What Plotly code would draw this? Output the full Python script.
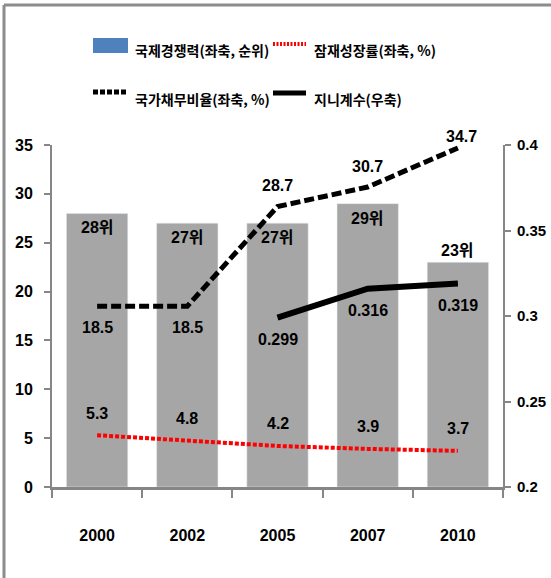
import plotly.graph_objects as go

# ---- data ----
years = ["2000", "2002", "2005", "2007", "2010"]
competitiveness_rank = [28, 27, 27, 29, 23]          # 국제경쟁력 (left axis, rank)
potential_growth = [5.3, 4.8, 4.2, 3.9, 3.7]          # 잠재성장률 (left axis, %)
debt_ratio = [18.5, 18.5, 28.7, 30.7, 34.7]           # 국가채무비율 (left axis, %)
gini = [None, None, 0.299, 0.316, 0.319]              # 지니계수 (right axis)

rank_label_inside = [True, True, True, True, False]
debt_label_above = [False, False, True, True, True]

# ---- layout geometry (pixels) ----
W, H = 551, 578
L, R, T, B = 52, 503, 145, 487


def px_x(p):
    return (p - L) / (R - L)


def px_y(p):
    return (B - p) / (B - T)


NUM_FONT = "Liberation Sans, Arial, Noto Sans CJK KR, sans-serif"
KR_FONT = "Noto Sans CJK KR, sans-serif"
AXIS_GRAY = "#868686"

fig = go.Figure()

fig.add_trace(go.Bar(
    x=years, y=competitiveness_rank, marker_color="#a6a6a6",
    width=0.68, showlegend=False, hoverinfo="skip",
))
fig.add_trace(go.Scatter(
    x=years, y=potential_growth, mode="lines",
    line=dict(color="#ff0000", width=4, dash="4px,2px"),
    showlegend=False, hoverinfo="skip",
))
fig.add_trace(go.Scatter(
    x=years, y=debt_ratio, mode="lines",
    line=dict(color="#000000", width=5, dash="10px,4px"),
    showlegend=False, hoverinfo="skip",
))
fig.add_trace(go.Scatter(
    x=years, y=gini, mode="lines", yaxis="y2",
    line=dict(color="#000000", width=6),
    showlegend=False, hoverinfo="skip", connectgaps=False,
))

label_font = dict(family=NUM_FONT, size=16, color="#000000", weight="bold")
annotations = []

# rank labels on the bars (x given as category index)
for i, (v, inside) in enumerate(zip(competitiveness_rank, rank_label_inside)):
    annotations.append(dict(
        x=i, y=v, xref="x", yref="y", text=f"{v}위", showarrow=False,
        yanchor="top" if inside else "bottom", yshift=-4 if inside else 1,
        font=label_font,
    ))

# potential growth labels
for i, v in enumerate(potential_growth):
    annotations.append(dict(
        x=i, y=v, xref="x", yref="y", text=f"{v:.1f}", showarrow=False,
        yshift=22, font=label_font,
    ))

# debt ratio labels
for i, (v, above) in enumerate(zip(debt_ratio, debt_label_above)):
    shift = 21 if above else -21
    xs = 0
    if i == len(debt_ratio) - 1:
        shift, xs = 11, 4
    annotations.append(dict(
        x=i, y=v, xref="x", yref="y", text=f"{v:.1f}", showarrow=False,
        yshift=shift, xshift=xs, font=label_font,
    ))

# gini labels
for i, v in enumerate(gini):
    if v is None:
        continue
    annotations.append(dict(
        x=i, y=v, xref="x", yref="y2", text=f"{v:.3f}", showarrow=False,
        yshift=-22, font=label_font,
    ))

# ---- legend (drawn in paper space) ----
legend_font = dict(family=KR_FONT, size=14, color="#000000", weight="bold")
legend_items = [
    (133, 50, "국제경쟁력(좌축, 순위)"),
    (312, 50, "잠재성장률(좌축, %)"),
    (133, 99, "국가채무비율(좌축, %)"),
    (312, 99, "지니계수(우축)"),
]
for x, y, txt in legend_items:
    annotations.append(dict(
        x=px_x(x), y=px_y(y), xref="paper", yref="paper", text=txt,
        showarrow=False, xanchor="left", yanchor="middle", font=legend_font,
    ))

FRAME = dict(color="#8c8c8c", width=3)
shapes = [
    # outer frame (left and top edges fall inside the page)
    dict(type="line", xref="paper", yref="paper",
         x0=px_x(4), x1=px_x(W + 40), y0=px_y(5), y1=px_y(5), line=FRAME),
    dict(type="line", xref="paper", yref="paper",
         x0=px_x(4), x1=px_x(4), y0=px_y(5), y1=px_y(H + 40), line=FRAME),
    # legend swatches
    dict(type="rect", xref="paper", yref="paper",
         x0=px_x(93), x1=px_x(128), y0=px_y(38), y1=px_y(53),
         line=dict(width=0), fillcolor="#4f81bd"),
    dict(type="line", xref="paper", yref="paper",
         x0=px_x(273), x1=px_x(306), y0=px_y(44), y1=px_y(44),
         line=dict(color="#ff0000", width=4, dash="2px,1.5px")),
    dict(type="line", xref="paper", yref="paper",
         x0=px_x(93), x1=px_x(128), y0=px_y(92), y1=px_y(92),
         line=dict(color="#000000", width=5, dash="5px,2px")),
    dict(type="line", xref="paper", yref="paper",
         x0=px_x(273), x1=px_x(306), y0=px_y(93), y1=px_y(93),
         line=dict(color="#000000", width=5)),
]

tick_font = dict(family=NUM_FONT, size=16, color="#000000", weight="bold")
right_tick_font = dict(family=NUM_FONT, size=15, color="#000000", weight="bold")

fig.update_layout(
    width=W, height=H,
    margin=dict(l=L, r=W - R, t=T, b=H - B, pad=0, autoexpand=False),
    paper_bgcolor="#ffffff", plot_bgcolor="#ffffff",
    showlegend=False,
    annotations=annotations,
    shapes=shapes,
    xaxis=dict(
        type="category", range=[-0.5, 4.5], tickson="boundaries",
        ticks="outside", ticklen=8, tickwidth=2, tickcolor=AXIS_GRAY,
        showline=True, linecolor=AXIS_GRAY, linewidth=3,
        showgrid=False, zeroline=False, tickfont=tick_font,
        ticklabelstandoff=32, automargin=False,
    ),
    yaxis=dict(
        range=[0, 35], dtick=5, ticks="outside", ticklen=6, tickwidth=2,
        tickcolor=AXIS_GRAY, showline=True, linecolor=AXIS_GRAY, linewidth=2,
        showgrid=False, zeroline=False, tickfont=tick_font,
        ticklabelstandoff=8, automargin=False,
    ),
    yaxis2=dict(
        range=[0.2, 0.4], dtick=0.05, overlaying="y", side="right",
        ticks="outside", ticklen=6, tickwidth=2, tickcolor=AXIS_GRAY,
        showline=True, linecolor=AXIS_GRAY, linewidth=2,
        showgrid=False, zeroline=False, tickfont=right_tick_font,
        ticklabelstandoff=3, automargin=False,
    ),
)

fig.write_html("out.html")
